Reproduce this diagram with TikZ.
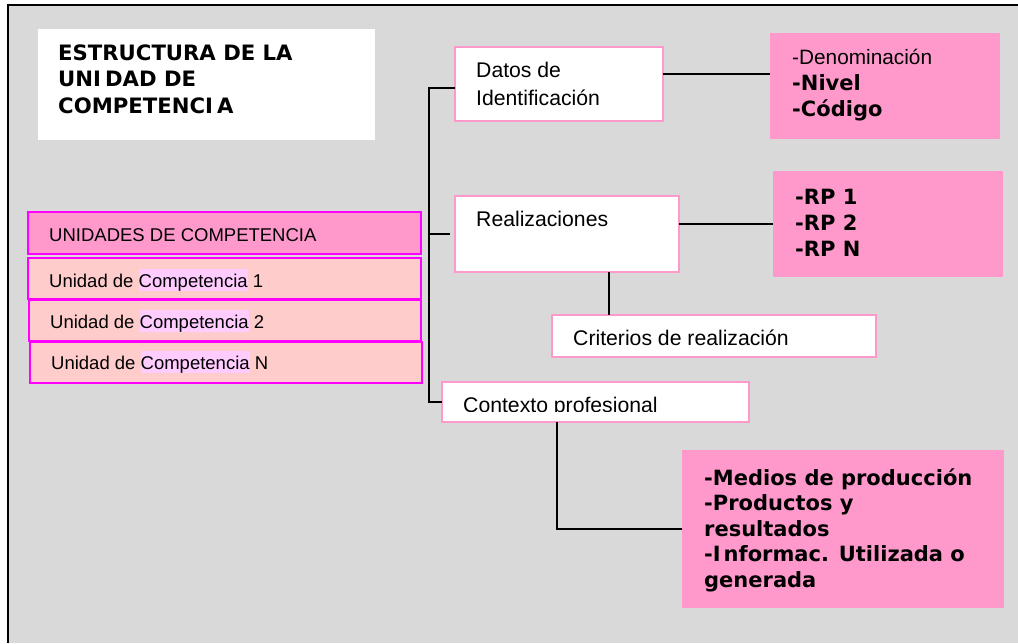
\documentclass[tikz,border=0pt]{standalone}
\usepackage{fontspec}
\setmainfont{Liberation Sans}
\newfontfamily\verd{DejaVu Sans}
\definecolor{bg}{HTML}{D9D9D9}
\definecolor{pk}{HTML}{FF99CC}
\definecolor{lpk}{HTML}{FFCCCC}
\definecolor{mag}{HTML}{FF00FF}
\definecolor{hlc}{HTML}{FFCCFF}
\newcommand\hlword[1]{{\setlength{\fboxsep}{0pt}\colorbox{hlc}{\rule[-2pt]{0pt}{20pt}#1}}}
\begin{document}
\begin{tikzpicture}[x=1pt,y=-1pt,
  whitebox/.style={draw=pk, line width=1.5pt, fill=white, inner sep=0pt, outer sep=0pt, anchor=north west},
  pinkbox/.style={fill=pk, inner sep=0pt, outer sep=0pt, anchor=north west},
  ucbox/.style={draw=mag, line width=1.5pt, fill=lpk, inner sep=0pt, outer sep=0pt, anchor=north west},
  arialtxt/.style={font=\fontsize{21.2}{28}\selectfont, inner sep=0pt, anchor=base west, align=left},
  uctxt/.style={font=\fontsize{18.5}{22}\selectfont, inner sep=0pt, anchor=base west},
  verdtxt/.style={font=\verd\bfseries\fontsize{21}{26}\selectfont, inner sep=0pt, anchor=base west, align=left},
  conn/.style={line width=1.5pt, black}]
\useasboundingbox (0,0) rectangle (1018,643);
\fill[white] (0,0) rectangle (1018,643);
\fill[bg] (8,5) rectangle (1018,643);
\draw[line width=2pt] (8,643) -- (8,5) -- (1018,5);

% title (multi-line nodes are anchored at the baseline of their last line)
\node[fill=white, inner sep=0pt, anchor=north west, minimum width=337pt, minimum height=111pt] (titlebox) at (38,29) {};
\node[verdtxt, font=\verd\bfseries\fontsize{21.2}{26.5}\selectfont] (title) at (58,113) {ESTRUCTURA DE LA\\UNI\kern4pt DAD DE\\COMPETENCI\kern4pt A};

% left column
\node[ucbox, fill=pk, minimum width=393pt, minimum height=42pt] (unidades) at (28,212) {};
\node[uctxt] (unidadest) at (49,241) {UNIDADES DE COMPETENCIA};
\node[ucbox, minimum width=393pt, minimum height=41pt] (uc1) at (28,258) {};
\node[uctxt] (uc1t) at (49,287) {Unidad de \hlword{Competencia} 1};
\node[ucbox, minimum width=392pt, minimum height=41pt] (uc2) at (29,300) {};
\node[uctxt] (uc2t) at (50,328) {Unidad de \hlword{Competencia} 2};
\node[ucbox, minimum width=392pt, minimum height=41pt] (ucn) at (30,342) {};
\node[uctxt] (ucnt) at (51,369) {Unidad de \hlword{Competencia} N};

% middle boxes
\node[whitebox, minimum width=208pt, minimum height=74pt] (datos) at (455,47) {};
\node[arialtxt] (datost) at (476,105) {Datos de\\Identificación};
\node[whitebox, minimum width=224pt, minimum height=76pt] (realiz) at (455,196) {};
\node[arialtxt] (realizt) at (476,226) {Realizaciones};
\node[whitebox, minimum width=324pt, minimum height=42pt] (criterios) at (552,315) {};
\node[arialtxt] (criteriost) at (573,345) {Criterios de realización};
\node[whitebox, minimum width=307pt, minimum height=40pt] (contexto) at (442,382) {};
\begin{scope}
\clip (442,380) rectangle (749,411.5);
\node[arialtxt] (contextot) at (463,412) {Contexto profesional};
\end{scope}

% pink boxes
\node[pinkbox, minimum width=230pt, minimum height=106pt] (denom) at (770,33) {};
\node[arialtxt, font=\fontsize{20.8}{26}\selectfont] (denomt) at (792,64) {-Denominación};
\node[verdtxt] (nivelt) at (792,116) {-Nivel\\-Código};
\node[pinkbox, minimum width=230pt, minimum height=106pt] (rp) at (773,171) {};
\node[verdtxt] (rpt) at (795,256) {-RP 1\\-RP 2\\-RP N};
\node[pinkbox, minimum width=322pt, minimum height=158pt] (medios) at (682,450) {};
\node[verdtxt, font=\verd\bfseries\fontsize{21}{25.5}\selectfont] (mediost) at (704,587) {-Medios de producción\\-Productos y\\resultados\\-I\kern3pt nformac. Utilizada o\\generada};

% connectors
\coordinate (trunk) at (429,88);
\draw[conn] (datos.west |- trunk) -- (trunk) |- (contexto.west);
\draw[conn] (trunk |- realiz.west) -- ([xshift=-5pt]realiz.west);
\draw[conn] ([yshift=10pt]datos.east) -- ([yshift=12pt]denom.west);
\draw[conn] (realiz.east |- rp.west) -- (rp.west);
\coordinate (critline) at (609,0);
\draw[conn] (realiz.south -| critline) -- (criterios.north -| critline);
\coordinate (ctxline) at (557,0);
\draw[conn] (contexto.south -| ctxline) |- (medios.west);
\end{tikzpicture}
\end{document}
